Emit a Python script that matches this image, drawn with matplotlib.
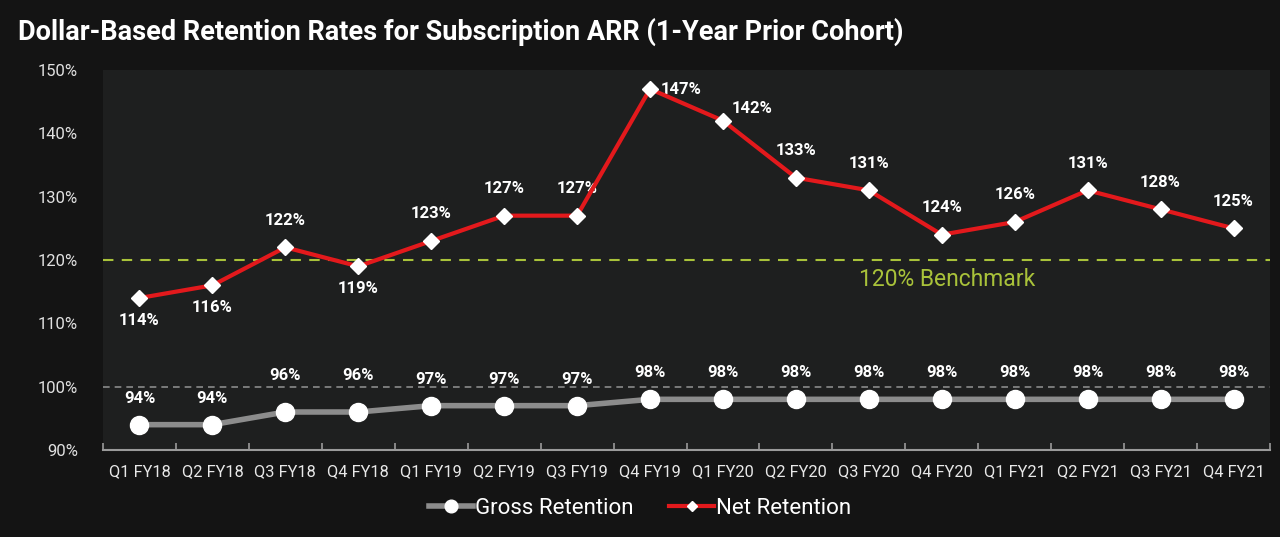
import matplotlib
matplotlib.use("Agg")
import matplotlib.pyplot as plt
import numpy as np

categories = ["Q1 FY18", "Q2 FY18", "Q3 FY18", "Q4 FY18", "Q1 FY19", "Q2 FY19", "Q3 FY19", "Q4 FY19",
              "Q1 FY20", "Q2 FY20", "Q3 FY20", "Q4 FY20", "Q1 FY21", "Q2 FY21", "Q3 FY21", "Q4 FY21"]
gross = [94, 94, 96, 96, 97, 97, 97, 98, 98, 98, 98, 98, 98, 98, 98, 98]
net = [114, 116, 122, 119, 123, 127, 127, 147, 142, 133, 131, 124, 126, 131, 128, 125]
benchmark = 120
yticks = [90, 100, 110, 120, 130, 140, 150]

plt.rcParams['font.family'] = ['Roboto', 'DejaVu Sans']

fig = plt.figure(figsize=(12.8, 5.37), dpi=100, facecolor="#141414")
ax = fig.add_axes([103/1280, 1 - 450/537, (1270-103)/1280, (450-70)/537])
ax.set_facecolor("#1e1f1f")

x = np.arange(len(categories))
ax.set_xlim(-0.5, len(categories) - 0.5)
ax.set_ylim(90, 150)

ax.axhline(100, color="#8a8a8a", lw=1.2, ls=(0, (4, 3)), zorder=1)
ax.axhline(benchmark, color="#a9c23a", lw=1.5, ls=(0, (5, 4)), zorder=1)
ax.text(11.07, benchmark - 3.1, "120% Benchmark", color="#a9c23a", fontsize=16.5,
        ha="center", va="center")

ax.plot(x, gross, color="#8c8c8c", lw=4, marker="o", ms=13, mfc="white", mec="white",
        zorder=3, label="Gross Retention")
ax.plot(x, net, color="#e3191c", lw=3, marker="D", ms=8, mfc="white", mec="white",
        zorder=4, label="Net Retention")

lab = dict(color="white", fontsize=12, fontweight="bold", va="center")
for i, v in enumerate(gross):
    ax.text(i, v + (5.8 if v == 96 else 4.2), f"{v}%", ha="center", **lab)

for i, v in enumerate(net):
    if i in (0, 1, 3):
        ax.text(i, v - 3.5, f"{v}%", ha="center", **lab)
    elif i == 7:
        ax.text(i + 0.15, v, f"{v}%", ha="left", **lab)
    elif i == 8:
        ax.text(i + 0.12, v + 1.9, f"{v}%", ha="left", **lab)
    else:
        ax.text(i, v + 4.3, f"{v}%", ha="center", **lab)

ax.set_yticks(yticks)
ax.set_yticklabels([f"{t}%" for t in yticks], color="#e0e0e0", fontsize=12)
ax.tick_params(axis="y", length=0, pad=18)
ax.set_xticks(x)
ax.set_xticklabels(categories, color="#e8e8e8", fontsize=11.8)
ax.set_xticks(np.arange(-0.5, len(categories)), minor=True)
ax.tick_params(axis="x", which="major", length=0, pad=10)
ax.tick_params(axis="x", which="minor", length=5, color="#9a9a9a", width=1.2, direction="in")

for s in ["top", "right", "left"]:
    ax.spines[s].set_visible(False)
ax.spines["bottom"].set_color("#9a9a9a")
ax.spines["bottom"].set_linewidth(1.5)

fig.text(18/1280, 1 - 32/537, "Dollar-Based Retention Rates for Subscription ARR (1-Year Prior Cohort)",
         color="white", fontsize=19.5, fontweight="bold", ha="left", va="center")

leg = fig.legend(loc="center", bbox_to_anchor=(0.5, 1 - 508/537), ncol=2, frameon=False,
                 fontsize=16, labelcolor="white", handlelength=2.0, handletextpad=0.1,
                 columnspacing=1.6, markerscale=0.7)

fig.savefig("out.png", dpi=100, facecolor=fig.get_facecolor())
